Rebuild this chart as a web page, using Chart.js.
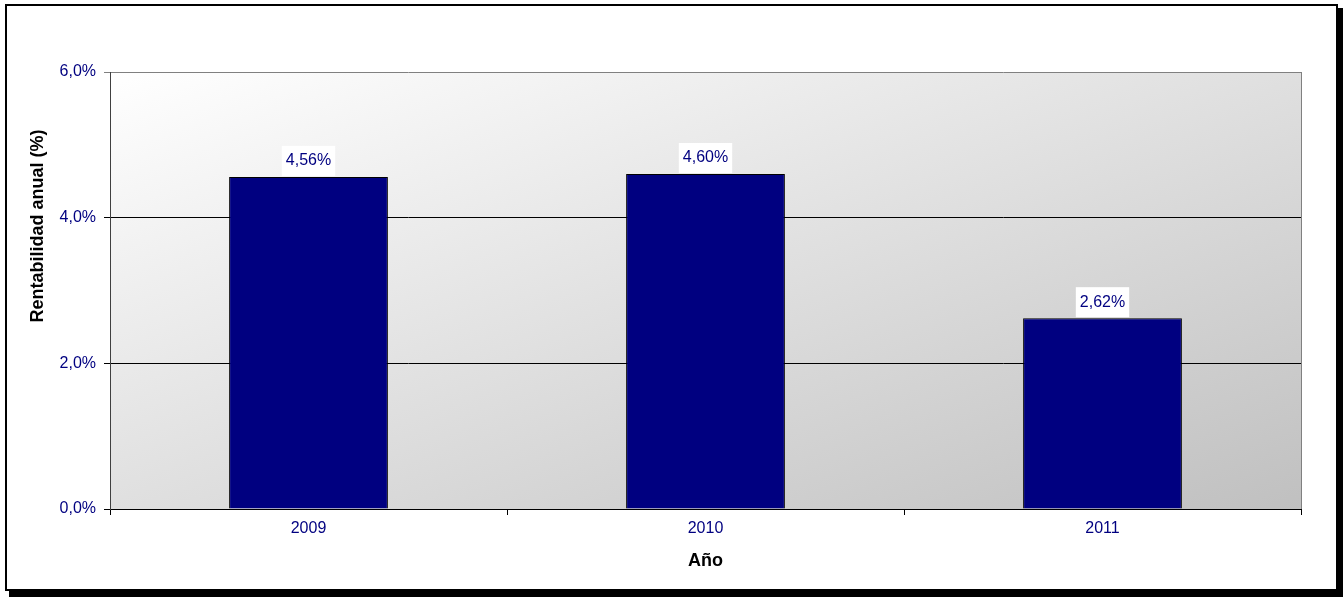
<!DOCTYPE html>
<html>
<head>
<meta charset="utf-8">
<script src="https://cdn.jsdelivr.net/npm/chart.js@4.4.0/dist/chart.umd.min.js"></script>
<style>
  body { margin: 0; background: #fff; }
  canvas { display: block; }
</style>
</head>
<body>
<canvas id="rentChart" width="1343" height="597" style="width:1343px;height:597px"></canvas>
<script>
// data
const years = ['2009', '2010', '2011'];
const rentabilidad = [4.56, 4.60, 2.62];
const yTickValues = [0, 2, 4, 6];
const yTitle = 'Rentabilidad anual (%)';
const xTitle = 'Año';

const navyText = '#000080';
const fontFamily = '"Liberation Sans", Arial, sans-serif';

function fmtPct(v, dec) {
	return v.toFixed(dec).replace('.', ',') + '%';
}

// frame, shadow and gradient plot background
const backgroundPlugin = {
	id: 'background',
	beforeDraw(chart) {
		const ctx = chart.ctx;
		const a = chart.chartArea;
		ctx.save();
		// shadow
		ctx.fillStyle = '#000';
		ctx.fillRect(9, 8, 1334, 589);
		// frame
		ctx.fillStyle = '#fff';
		ctx.fillRect(5, 4, 1332, 587);
		ctx.lineWidth = 2;
		ctx.strokeStyle = '#000';
		ctx.strokeRect(6, 5, 1331, 585);
		// diagonal gradient: white top-left, gray bottom-right, corners in between
		const W = a.right - a.left;
		const H = a.bottom - a.top;
		const k = 2 * W * H / (W * W + H * H);
		const g = ctx.createLinearGradient(a.left, a.top, a.left + k * H, a.top + k * W);
		g.addColorStop(0, '#ffffff');
		g.addColorStop(1, '#c0c0c0');
		ctx.fillStyle = g;
		ctx.fillRect(a.left, a.top, W, H);
		ctx.restore();
	},
	beforeDatasetsDraw(chart) {
		const ctx = chart.ctx;
		const a = chart.chartArea;
		ctx.save();
		ctx.strokeStyle = '#808080';
		ctx.lineWidth = 1;
		ctx.beginPath();
		ctx.moveTo(a.right + 0.5, a.top);
		ctx.lineTo(a.right + 0.5, a.bottom);
		ctx.stroke();
		// y axis title, sits a bit above the middle of the plot
		ctx.fillStyle = '#000';
		ctx.font = 'bold 18px ' + fontFamily;
		ctx.textAlign = 'center';
		ctx.textBaseline = 'middle';
		ctx.translate(38, 226);
		ctx.rotate(-Math.PI / 2);
		ctx.fillText(yTitle, 0, 0);
		ctx.restore();
	}
};

// value labels with white box
const valueLabelPlugin = {
	id: 'valueLabels',
	afterDatasetsDraw(chart) {
		const ctx = chart.ctx;
		const meta = chart.getDatasetMeta(0);
		ctx.save();
		ctx.font = '16px ' + fontFamily;
		ctx.textAlign = 'center';
		ctx.textBaseline = 'middle';
		meta.data.forEach((bar, i) => {
			const txt = fmtPct(rentabilidad[i], 2);
			const w = ctx.measureText(txt).width + 8;
			const h = 30;
			ctx.fillStyle = '#fff';
			ctx.fillRect(bar.x - w / 2, bar.y - h - 1, w, h);
			ctx.fillStyle = navyText;
			ctx.fillText(txt, bar.x, bar.y - 16);
		});
		ctx.restore();
	}
};

const config = {
	type: 'bar',
	data: {
		labels: years,
		datasets: [{
			label: yTitle,
			data: rentabilidad,
			backgroundColor: '#000080',
			borderColor: '#000',
			borderWidth: 1,
			categoryPercentage: 1,
			barPercentage: 0.4
		}]
	},
	options: {
		responsive: false,
		animation: false,
		layout: {
			padding: { left: 0, top: 72, right: 42, bottom: 0 }
		},
		plugins: {
			legend: { display: false },
			tooltip: { enabled: false }
		},
		scales: {
			x: {
				afterFit(scale) { scale.height = 88; },
				grid: {
					offset: true,
					drawOnChartArea: false,
					tickLength: 6,
					color: '#000'
				},
				border: { color: '#000', width: 1 },
				ticks: {
					color: navyText,
					padding: 4,
					font: { family: fontFamily, size: 16 }
				},
				title: {
					display: true,
					text: xTitle,
					color: '#000',
					padding: { top: 4, bottom: 25 },
					font: { family: fontFamily, size: 18, weight: 'bold' }
				}
			},
			y: {
				min: 0,
				max: 6,
				afterFit(scale) { scale.width = 110; },
				afterBuildTicks(scale) {
					scale.ticks = yTickValues.map(v => ({ value: v }));
				},
				grid: {
					tickLength: 6,
					color: ctx => ctx.tick && ctx.tick.value === 6 ? '#808080' : '#000'
				},
				border: { color: '#404040', width: 1 },
				ticks: {
					color: navyText,
					padding: 8,
					font: { family: fontFamily, size: 16 },
					callback: v => fmtPct(v, 1)
				}
			}
		}
	},
	plugins: [backgroundPlugin, valueLabelPlugin]
};

new Chart(document.getElementById('rentChart'), config);
</script>
</body>
</html>
